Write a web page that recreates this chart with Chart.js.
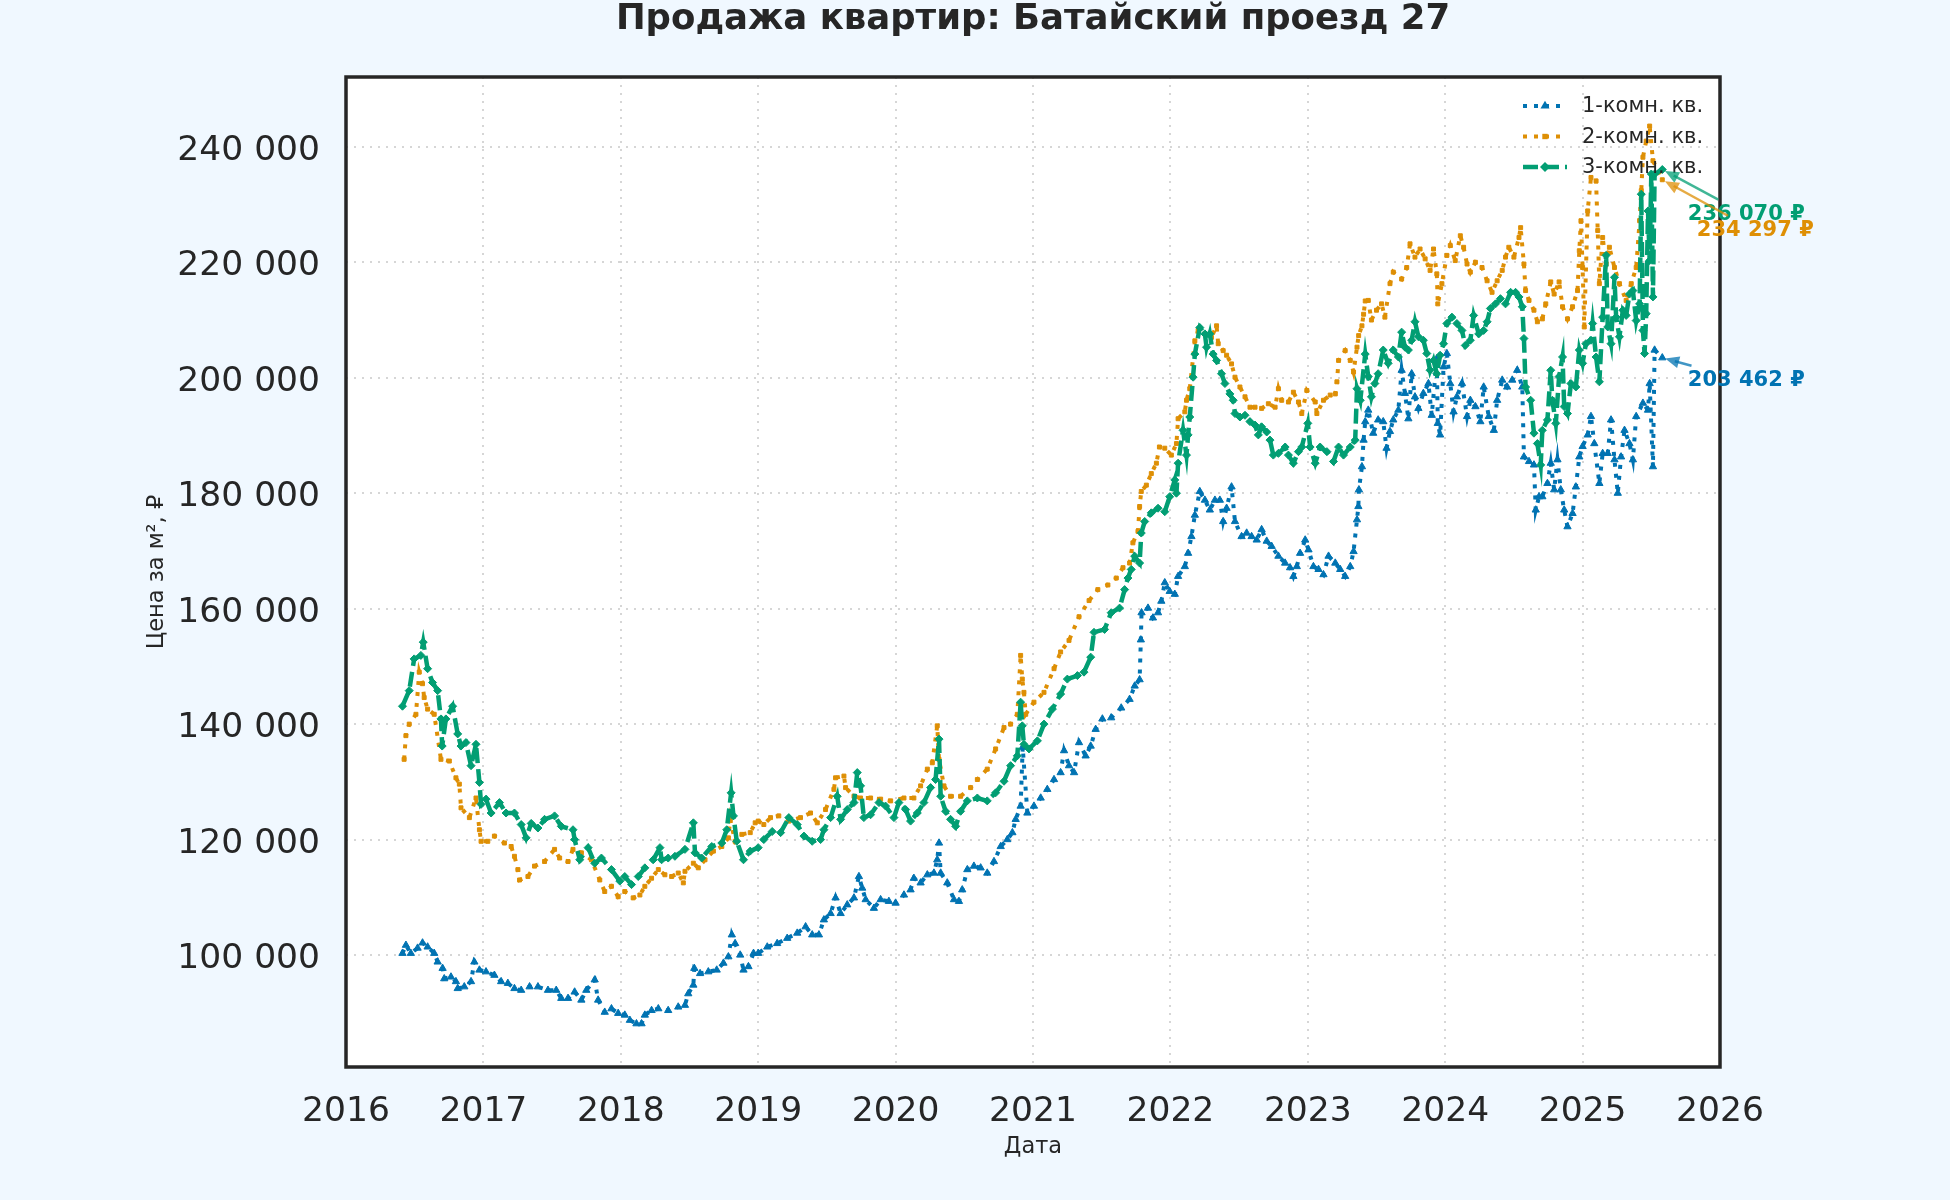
<!DOCTYPE html>
<html>
<head>
<meta charset="utf-8">
<title>Продажа квартир: Батайский проезд 27</title>
<script src="https://cdn.jsdelivr.net/npm/chart.js@4.4.1/dist/chart.umd.min.js"></script>
<style>
  html, body { margin: 0; padding: 0; background: #f0f8ff; }
  canvas { display: block; }
</style>
</head>
<body>
<canvas id="grafico" width="1950" height="1200"></canvas>
<script>
// dados: [ano, preco por m2]
const titulo = 'Продажа квартир: Батайский проезд 27'
const nomes = ['1-комн. кв.', '2-комн. кв.', '3-комн. кв.']
const anosTicks = [2016, 2017, 2018, 2019, 2020, 2021, 2022, 2023, 2024, 2025, 2026]
const precosTicks = [100000, 120000, 140000, 160000, 180000, 200000, 220000, 240000]

const kv1 = [
  [2016.411,100300],[2016.436,101700],[2016.472,100300],[2016.521,101200],[2016.557,102100],[2016.594,101400],
  [2016.642,100300],[2016.667,98800],[2016.703,97700],[2016.715,95900],[2016.764,96200],[2016.800,95400],
  [2016.813,94200],[2016.861,94500],[2016.910,95400],[2016.934,98800],[2016.971,97400],[2017.019,97100],
  [2017.080,96500],[2017.129,95400],[2017.178,95100],[2017.226,94200],[2017.275,93900],[2017.336,94500],
  [2017.397,94500],[2017.470,93900],[2017.530,93900],[2017.567,92500],[2017.616,92500],[2017.664,93600],
  [2017.713,92200],[2017.749,93900],[2017.810,95700],[2017.835,92200],[2017.883,90100],[2017.932,90700],
  [2017.981,89900],[2018.029,89600],[2018.066,88700],[2018.114,88100],[2018.151,88100],[2018.175,89600],
  [2018.224,90400],[2018.273,90700],[2018.345,90400],[2018.418,91000],[2018.467,91300],[2018.491,93300],
  [2018.528,94800],[2018.535,97700],[2018.577,96800],[2018.637,97100],[2018.698,97400],[2018.747,98600],
  [2018.783,99700],[2018.808,103500],[2018.832,102000],[2018.869,100000],[2018.893,97400],[2018.929,98000],
  [2018.966,100300],[2019.000,100300],[2019.066,101400],[2019.138,102000],[2019.211,102900],[2019.284,103800],
  [2019.345,104900],[2019.393,103500],[2019.442,103500],[2019.478,106100],[2019.527,107200],[2019.563,109900],
  [2019.600,107200],[2019.648,108700],[2019.697,109900],[2019.733,113600],[2019.757,111600],[2019.782,109600],
  [2019.842,108100],[2019.891,109600],[2019.951,109300],[2020.000,109000],[2020.061,110400],[2020.109,111300],
  [2020.133,113300],[2020.182,112500],[2020.231,113900],[2020.279,114200],[2020.303,116500],[2020.316,119400],
  [2020.328,114200],[2020.376,112500],[2020.425,109600],[2020.461,109300],[2020.485,111300],[2020.522,114800],
  [2020.570,115400],[2020.619,115100],[2020.667,114200],[2020.716,116200],[2020.765,118800],[2020.813,120000],
  [2020.850,121200],[2020.874,123500],[2020.910,125800],[2020.925,136000],[2020.959,124600],[2021.007,125800],
  [2021.056,127200],[2021.104,128700],[2021.153,130400],[2021.201,131600],[2021.226,135400],[2021.262,132800],
  [2021.299,131600],[2021.335,136800],[2021.383,134500],[2021.420,136200],[2021.456,139100],[2021.505,140900],
  [2021.569,141100],[2021.642,142800],[2021.703,144300],[2021.740,146600],[2021.776,147700],[2021.785,154600],
  [2021.790,159300],[2021.837,160100],[2021.873,158400],[2021.910,159300],[2021.934,161300],[2021.959,164500],
  [2021.995,163000],[2022.032,162500],[2022.056,165600],[2022.105,167300],[2022.129,169600],[2022.153,172500],
  [2022.178,176200],[2022.214,180300],[2022.251,178800],[2022.287,177100],[2022.324,178800],[2022.360,178800],
  [2022.384,175100],[2022.409,177400],[2022.445,181100],[2022.470,175100],[2022.518,172500],[2022.555,173100],
  [2022.591,172500],[2022.628,171900],[2022.664,173700],[2022.701,171700],[2022.737,170800],[2022.786,169100],
  [2022.835,167900],[2022.871,167100],[2022.895,165600],[2022.920,167300],[2022.944,169600],[2022.981,171900],
  [2023.005,170200],[2023.041,167300],[2023.078,166800],[2023.114,165900],[2023.151,169100],[2023.200,167900],
  [2023.236,166800],[2023.272,165600],[2023.309,167300],[2023.333,169900],[2023.358,175400],[2023.368,177700],
  [2023.372,180600],[2023.394,184600],[2023.406,189200],[2023.418,192400],[2023.440,194400],[2023.476,190400],
  [2023.512,192700],[2023.549,192400],[2023.573,187800],[2023.598,190700],[2023.622,192700],[2023.659,194400],
  [2023.683,201300],[2023.707,197300],[2023.732,192900],[2023.756,200700],[2023.780,196700],[2023.805,194700],
  [2023.841,197300],[2023.878,199000],[2023.902,193500],[2023.939,203300],[2023.946,192100],[2023.963,190100],
  [2023.988,201900],[2024.012,204200],[2024.037,199000],[2024.061,194100],[2024.085,196700],[2024.122,199000],
  [2024.159,193300],[2024.183,196100],[2024.220,195000],[2024.256,192400],[2024.280,198400],[2024.317,193300],
  [2024.354,190900],[2024.378,196100],[2024.415,199600],[2024.451,198400],[2024.488,199600],[2024.524,201300],
  [2024.561,198400],[2024.573,186300],[2024.610,185500],[2024.646,184900],[2024.659,177100],[2024.683,179400],
  [2024.707,179400],[2024.744,181700],[2024.768,185200],[2024.793,180600],[2024.817,185800],[2024.841,180600],
  [2024.866,177100],[2024.890,174200],[2024.927,176500],[2024.951,181100],[2024.976,186300],[2025.000,188100],
  [2025.037,190100],[2025.061,193300],[2025.085,188600],[2025.122,181700],[2025.146,186900],[2025.183,186900],
  [2025.207,192700],[2025.232,185800],[2025.256,180000],[2025.280,186300],[2025.305,190900],[2025.341,188600],
  [2025.366,185800],[2025.390,193300],[2025.439,195600],[2025.476,194400],[2025.488,199000],[2025.512,184600],
  [2025.524,204800],[2025.580,203462]
]

const kv2 = [
  [2016.423,133900],[2016.436,138000],[2016.460,140000],[2016.509,141700],[2016.533,149000],[2016.557,147000],
  [2016.569,144600],[2016.594,142600],[2016.642,141700],[2016.691,133900],[2016.752,133600],[2016.800,130700],
  [2016.825,129600],[2016.837,125500],[2016.898,123800],[2016.946,127200],[2016.971,121700],[2016.983,119700],
  [2017.032,119700],[2017.080,120600],[2017.153,119400],[2017.202,118800],[2017.226,117100],[2017.251,114800],
  [2017.263,113000],[2017.324,113600],[2017.372,115400],[2017.445,116200],[2017.518,118300],[2017.555,116800],
  [2017.616,116200],[2017.652,118300],[2017.713,117700],[2017.786,116500],[2017.847,113000],[2017.883,111000],
  [2017.932,111900],[2017.981,110100],[2018.029,111000],[2018.090,109900],[2018.139,110400],[2018.175,111900],
  [2018.224,113300],[2018.273,114800],[2018.321,113900],[2018.370,113600],[2018.418,114200],[2018.455,112500],
  [2018.467,114500],[2018.528,115900],[2018.564,115100],[2018.613,116500],[2018.674,118000],[2018.735,118800],
  [2018.783,120300],[2018.796,123500],[2018.832,119700],[2018.881,120900],[2018.942,121200],[2018.978,122900],
  [2019.000,123200],[2019.041,122600],[2019.090,123800],[2019.150,124100],[2019.223,123200],[2019.308,123800],
  [2019.381,124600],[2019.430,122900],[2019.490,125200],[2019.551,128700],[2019.563,130700],[2019.624,131000],
  [2019.636,129000],[2019.697,127500],[2019.745,127200],[2019.818,127200],[2019.891,127000],[2019.964,126700],
  [2020.061,127200],[2020.133,127200],[2020.182,129300],[2020.231,132200],[2020.267,133300],[2020.303,139700],
  [2020.316,133900],[2020.352,129300],[2020.400,127500],[2020.473,127500],[2020.546,129000],[2020.595,130400],
  [2020.667,132200],[2020.728,135700],[2020.789,139400],[2020.837,140000],[2020.886,141700],[2020.910,151900],
  [2020.922,147800],[2020.934,145500],[2020.947,141700],[2021.007,143800],[2021.080,145500],[2021.153,149600],
  [2021.201,152500],[2021.262,154500],[2021.335,158600],[2021.408,161400],[2021.472,163300],[2021.545,164100],
  [2021.606,165300],[2021.655,167100],[2021.703,167900],[2021.727,171400],[2021.764,173400],[2021.776,177700],
  [2021.788,180300],[2021.825,181400],[2021.861,183400],[2021.898,185200],[2021.920,188000],[2021.959,187800],
  [2022.007,186600],[2022.044,188600],[2022.056,192900],[2022.105,194100],[2022.117,196100],[2022.141,198100],
  [2022.178,206400],[2022.202,208200],[2022.251,207600],[2022.299,207000],[2022.336,209000],[2022.348,205900],
  [2022.384,204700],[2022.409,203900],[2022.445,202400],[2022.470,200100],[2022.506,198400],[2022.543,196700],
  [2022.579,194900],[2022.616,194900],[2022.664,194700],[2022.713,195500],[2022.762,194900],[2022.786,198100],
  [2022.810,196100],[2022.859,195800],[2022.895,197500],[2022.932,195800],[2022.956,193800],[2022.993,197800],
  [2023.054,195800],[2023.066,193800],[2023.114,196100],[2023.163,197000],[2023.200,197200],[2023.212,199300],
  [2023.224,203000],[2023.272,204700],[2023.309,203000],[2023.333,201000],[2023.358,205300],[2023.370,207300],
  [2023.394,209000],[2023.406,211000],[2023.418,213300],[2023.440,213400],[2023.463,210000],[2023.500,211700],
  [2023.537,212800],[2023.561,210500],[2023.598,216300],[2023.622,218300],[2023.683,217100],[2023.720,219100],
  [2023.744,223200],[2023.780,220900],[2023.817,222300],[2023.854,220600],[2023.890,218600],[2023.915,222300],
  [2023.939,218000],[2023.946,212800],[2023.976,216300],[2024.012,221200],[2024.037,222900],[2024.073,220300],
  [2024.110,224600],[2024.134,222600],[2024.159,219700],[2024.183,218300],[2024.220,220000],[2024.268,219100],
  [2024.305,216800],[2024.341,214800],[2024.378,216800],[2024.415,218600],[2024.439,220900],[2024.463,222600],
  [2024.500,220900],[2024.537,224300],[2024.549,226000],[2024.573,219700],[2024.585,215100],[2024.610,213400],
  [2024.646,211700],[2024.671,209700],[2024.707,210200],[2024.732,212800],[2024.768,216600],[2024.793,214500],
  [2024.829,216600],[2024.854,212300],[2024.890,210200],[2024.927,212300],[2024.963,215100],[2024.976,222000],
  [2024.988,227200],[2025.000,219100],[2025.012,208800],[2025.037,228900],[2025.061,234700],[2025.098,234100],
  [2025.110,225500],[2025.122,216300],[2025.146,224300],[2025.171,219700],[2025.195,222600],[2025.232,219100],
  [2025.268,216300],[2025.317,213400],[2025.354,216300],[2025.390,219100],[2025.415,227200],[2025.427,232400],
  [2025.439,238200],[2025.463,241000],[2025.488,243600],[2025.512,237600],[2025.580,234297]
]

const kv3 = [
  [2016.411,143100],[2016.460,145800],[2016.496,151300],[2016.545,151900],[2016.562,154200],[2016.594,149600],
  [2016.630,147200],[2016.667,145800],[2016.691,140900],[2016.700,136200],[2016.727,140900],[2016.776,143100],
  [2016.813,138300],[2016.837,136200],[2016.873,136800],[2016.910,132800],[2016.946,136500],[2016.971,129900],
  [2016.983,126100],[2017.019,127000],[2017.056,124600],[2017.117,126400],[2017.165,124600],[2017.226,124600],
  [2017.275,122600],[2017.311,120300],[2017.348,122800],[2017.397,122000],[2017.445,123500],[2017.518,124100],
  [2017.567,122300],[2017.652,121700],[2017.664,120000],[2017.701,116500],[2017.762,118600],[2017.810,115900],
  [2017.859,116800],[2017.932,114800],[2017.993,112800],[2018.029,113600],[2018.078,112200],[2018.127,113600],
  [2018.175,115100],[2018.236,116500],[2018.285,118600],[2018.297,116500],[2018.345,116800],[2018.394,117100],
  [2018.467,118300],[2018.528,122900],[2018.540,117700],[2018.589,116800],[2018.662,118800],[2018.735,119400],
  [2018.771,121700],[2018.803,128100],[2018.820,124100],[2018.844,119700],[2018.893,116500],[2018.942,118000],
  [2019.000,118600],[2019.041,120000],[2019.102,121400],[2019.163,121200],[2019.223,123800],[2019.284,122600],
  [2019.333,120600],[2019.393,119700],[2019.454,120000],[2019.478,121700],[2019.527,123800],[2019.575,127500],
  [2019.600,123500],[2019.648,125200],[2019.697,126400],[2019.721,131600],[2019.745,129300],[2019.769,123800],
  [2019.818,124300],[2019.879,126400],[2019.927,125800],[2019.988,123800],[2020.024,126400],[2020.073,125200],
  [2020.109,123200],[2020.158,124600],[2020.206,126400],[2020.255,129000],[2020.291,130400],[2020.316,137400],
  [2020.328,127500],[2020.364,124900],[2020.400,123500],[2020.437,122300],[2020.473,124900],[2020.522,126700],
  [2020.595,127200],[2020.667,126700],[2020.728,128100],[2020.789,130100],[2020.837,132800],[2020.886,134500],
  [2020.910,143800],[2020.922,139700],[2020.934,136500],[2020.971,135700],[2021.032,137100],[2021.080,140000],
  [2021.141,142600],[2021.201,145200],[2021.250,147800],[2021.323,148400],[2021.371,149000],[2021.420,151600],
  [2021.444,155900],[2021.521,156400],[2021.569,159300],[2021.630,160100],[2021.667,163300],[2021.691,165300],
  [2021.715,166800],[2021.740,169100],[2021.776,167900],[2021.788,173100],[2021.813,175100],[2021.861,176600],
  [2021.910,177400],[2021.959,176800],[2021.995,179400],[2022.032,182300],[2022.044,180000],[2022.056,185200],
  [2022.092,190900],[2022.117,186600],[2022.129,190100],[2022.141,193200],[2022.165,200100],[2022.178,204100],
  [2022.214,208700],[2022.251,207600],[2022.263,205300],[2022.287,207600],[2022.311,204100],[2022.336,203000],
  [2022.372,200700],[2022.397,199000],[2022.433,197200],[2022.457,196100],[2022.470,193800],[2022.506,193200],
  [2022.543,193500],[2022.579,192400],[2022.616,191800],[2022.640,190100],[2022.664,191500],[2022.701,190600],
  [2022.725,189200],[2022.749,186600],[2022.786,186900],[2022.835,188000],[2022.859,186600],[2022.895,185200],
  [2022.932,187200],[2022.956,188000],[2023.000,192100],[2023.017,188000],[2023.054,185200],[2023.090,188000],
  [2023.139,187200],[2023.187,185500],[2023.224,188000],[2023.260,186600],[2023.309,188000],[2023.345,189200],
  [2023.358,198100],[2023.382,196100],[2023.418,204100],[2023.440,200200],[2023.463,196700],[2023.488,199000],
  [2023.512,200700],[2023.549,204800],[2023.585,202500],[2023.622,204800],[2023.659,203600],[2023.683,207900],
  [2023.707,205300],[2023.732,204800],[2023.756,206500],[2023.780,209700],[2023.805,207100],[2023.841,206500],
  [2023.866,204200],[2023.890,201300],[2023.915,203000],[2023.939,200700],[2023.963,203900],[2023.988,205900],
  [2024.012,209400],[2024.049,210500],[2024.085,209400],[2024.122,208200],[2024.146,205600],[2024.183,206500],
  [2024.207,210800],[2024.244,207600],[2024.280,208200],[2024.305,209700],[2024.329,212000],[2024.366,212800],
  [2024.402,213700],[2024.439,212800],[2024.476,214800],[2024.512,214800],[2024.537,214000],[2024.561,212300],
  [2024.573,206800],[2024.585,198400],[2024.622,196100],[2024.646,190400],[2024.671,188600],[2024.695,184900],
  [2024.707,190900],[2024.744,192700],[2024.768,201300],[2024.780,196100],[2024.805,192100],[2024.829,200200],
  [2024.854,203600],[2024.866,195000],[2024.890,193800],[2024.915,199000],[2024.951,198400],[2024.976,204800],
  [2025.000,202500],[2025.024,205900],[2025.061,206500],[2025.073,209400],[2025.098,203600],[2025.122,199300],
  [2025.146,210500],[2025.171,221200],[2025.183,208800],[2025.207,205900],[2025.232,217400],[2025.244,210500],
  [2025.268,207100],[2025.293,211700],[2025.317,210800],[2025.341,214500],[2025.366,215100],[2025.390,209900],
  [2025.415,212800],[2025.427,231800],[2025.439,208200],[2025.451,204200],[2025.463,211100],[2025.476,228900],
  [2025.488,220300],[2025.500,235300],[2025.512,214000],[2025.524,235300],[2025.580,236070]
]

const fonte = 'DejaVu Sans'
const texto = '#262626'

function milhar(v) {
  return String(Math.round(v)).replace(/\B(?=(\d{3})+(?!\d))/g, ' ')
}

const series = [
  { label: nomes[0], dados: kv1, cor: '#0173b2', dash: [4, 7], ponto: 'triangle', raio: 4.2, largura: 4, ordem: 2 },
  { label: nomes[1], dados: kv2, cor: '#de8f05', dash: [4, 7], ponto: 'rect', raio: 2.8, largura: 4, ordem: 1 },
  { label: nomes[2], dados: kv3, cor: '#029e73', dash: [15, 6], ponto: 'rectRot', raio: 4, largura: 4.5, ordem: 0 }
]

// setas com o ultimo valor de cada serie (deslocamento do texto em px)
const notas = [
  { serie: 2, dx: 84, dy: 45 },
  { serie: 1, dx: 93, dy: 51 },
  { serie: 0, dx: 84, dy: 23 }
]

function marcador(ctx, tipo, x, y, r) {
  ctx.beginPath()
  if (tipo === 'triangle') {
    ctx.moveTo(x, y - r)
    ctx.lineTo(x + r * 0.866, y + r * 0.5)
    ctx.lineTo(x - r * 0.866, y + r * 0.5)
  } else if (tipo === 'rectRot') {
    ctx.moveTo(x, y - r)
    ctx.lineTo(x + r, y)
    ctx.lineTo(x, y + r)
    ctx.lineTo(x - r, y)
  } else {
    const s = r * Math.SQRT1_2
    ctx.rect(x - s, y - s, 2 * s, 2 * s)
  }
  ctx.closePath()
  ctx.fill()
}

const fundo = {
  id: 'fundo',
  beforeDraw(chart) {
    const { ctx, chartArea: a } = chart
    ctx.save()
    ctx.fillStyle = '#f0f8ff'
    ctx.fillRect(0, 0, chart.width, chart.height)
    ctx.fillStyle = '#ffffff'
    ctx.fillRect(a.left, a.top, a.right - a.left, a.bottom - a.top)
    ctx.restore()
  }
}

const extras = {
  id: 'extras',
  afterDraw(chart) {
    const { ctx, chartArea: a } = chart
    ctx.save()

    // moldura
    ctx.strokeStyle = texto
    ctx.lineWidth = 3.5
    ctx.setLineDash([])
    ctx.strokeRect(a.left, a.top, a.right - a.left, a.bottom - a.top)

    // titulo
    ctx.fillStyle = texto
    ctx.font = 'bold 35.5px ' + fonte
    ctx.textAlign = 'center'
    ctx.textBaseline = 'alphabetic'
    ctx.fillText(titulo, (a.left + a.right) / 2, 29)

    // legenda
    ctx.font = '21px ' + fonte
    ctx.textAlign = 'left'
    ctx.textBaseline = 'middle'
    series.forEach((s, i) => {
      const y = a.top + 29 + i * 30.5
      const x0 = a.right - 197
      ctx.strokeStyle = s.cor
      ctx.lineWidth = s.largura
      ctx.setLineDash(s.dash)
      ctx.beginPath()
      ctx.moveTo(x0, y)
      ctx.lineTo(x0 + 44, y)
      ctx.stroke()
      ctx.setLineDash([])
      ctx.fillStyle = s.cor
      marcador(ctx, s.ponto, x0 + 22, y, s.raio + 1)
      ctx.fillStyle = texto
      ctx.fillText(s.label, x0 + 59, y + 1)
    })

    // anotacoes
    ctx.font = 'bold 21px ' + fonte
    ctx.textAlign = 'center'
    notas.forEach(n => {
      const s = series[n.serie]
      const ult = s.dados[s.dados.length - 1]
      const px = chart.scales.x.getPixelForValue(ult[0])
      const py = chart.scales.y.getPixelForValue(ult[1])
      const cx = px + n.dx
      const cy = py + n.dy
      const rotulo = milhar(ult[1]) + ' ₽'
      const w = ctx.measureText(rotulo).width
      const t = Math.min((w / 2 + 3) / n.dx, 15 / n.dy)
      const sx = cx - t * n.dx
      const sy = cy - t * n.dy
      const ang = Math.atan2(py - sy, px - sx)
      const ex = px - Math.cos(ang) * 3
      const ey = py - Math.sin(ang) * 3
      ctx.globalAlpha = 0.75
      ctx.strokeStyle = s.cor
      ctx.fillStyle = s.cor
      ctx.lineWidth = 2.5
      ctx.beginPath()
      ctx.moveTo(sx, sy)
      ctx.lineTo(ex - Math.cos(ang) * 10, ey - Math.sin(ang) * 10)
      ctx.stroke()
      ctx.beginPath()
      ctx.moveTo(ex, ey)
      ctx.lineTo(ex - Math.cos(ang) * 14 + Math.sin(ang) * 6, ey - Math.sin(ang) * 14 - Math.cos(ang) * 6)
      ctx.lineTo(ex - Math.cos(ang) * 14 - Math.sin(ang) * 6, ey - Math.sin(ang) * 14 + Math.cos(ang) * 6)
      ctx.closePath()
      ctx.fill()
      ctx.globalAlpha = 1
      ctx.fillText(rotulo, cx, cy)
    })

    ctx.restore()
  }
}

const ctx = document.getElementById('grafico').getContext('2d')
const graph = new Chart(ctx, {
  type: 'line',
  data: {
    datasets: series.map(s => ({
      label: s.label,
      data: s.dados.map(p => ({ x: p[0], y: p[1] })),
      borderColor: s.cor,
      backgroundColor: s.cor,
      borderWidth: s.largura,
      borderDash: s.dash,
      pointStyle: s.ponto,
      pointRadius: s.raio,
      pointBorderWidth: 1,
      pointBorderColor: s.cor,
      pointBackgroundColor: s.cor,
      tension: 0,
      fill: false,
      order: s.ordem
    }))
  },
  options: {
    responsive: false,
    animation: false,
    devicePixelRatio: 1,
    layout: { padding: { top: 77, right: 230, bottom: 0, left: 0 } },
    plugins: {
      legend: { display: false },
      tooltip: { enabled: false },
      title: { display: false }
    },
    scales: {
      x: {
        type: 'linear',
        min: 2016,
        max: 2026,
        afterBuildTicks: s => { s.ticks = anosTicks.map(v => ({ value: v })) },
        afterFit: s => { s.height = 133 },
        ticks: {
          callback: v => String(v),
          font: { family: fonte, size: 34.5 },
          color: texto,
          padding: 24,
          maxRotation: 0,
          autoSkip: false
        },
        grid: { color: '#d6d6d6', lineWidth: 2, drawTicks: false },
        border: { display: false, dash: [2, 6] },
        title: {
          display: true,
          text: 'Дата',
          font: { family: fonte, size: 22.5 },
          color: texto,
          padding: { top: 0, bottom: 39 }
        }
      },
      y: {
        type: 'linear',
        min: 80600,
        max: 252100,
        afterBuildTicks: s => { s.ticks = precosTicks.map(v => ({ value: v })) },
        afterFit: s => { s.width = 346 },
        ticks: {
          callback: v => milhar(v),
          font: { family: fonte, size: 34.5 },
          color: texto,
          padding: 26,
          labelOffset: 4,
          autoSkip: false
        },
        grid: { color: '#d6d6d6', lineWidth: 2, drawTicks: false },
        border: { display: false, dash: [2, 6] },
        title: {
          display: true,
          text: 'Цена за м², ₽',
          font: { family: fonte, size: 22.5 },
          color: texto,
          padding: { top: 144, bottom: 0 }
        }
      }
    }
  },
  plugins: [fundo, extras]
})
</script>
</body>
</html>
